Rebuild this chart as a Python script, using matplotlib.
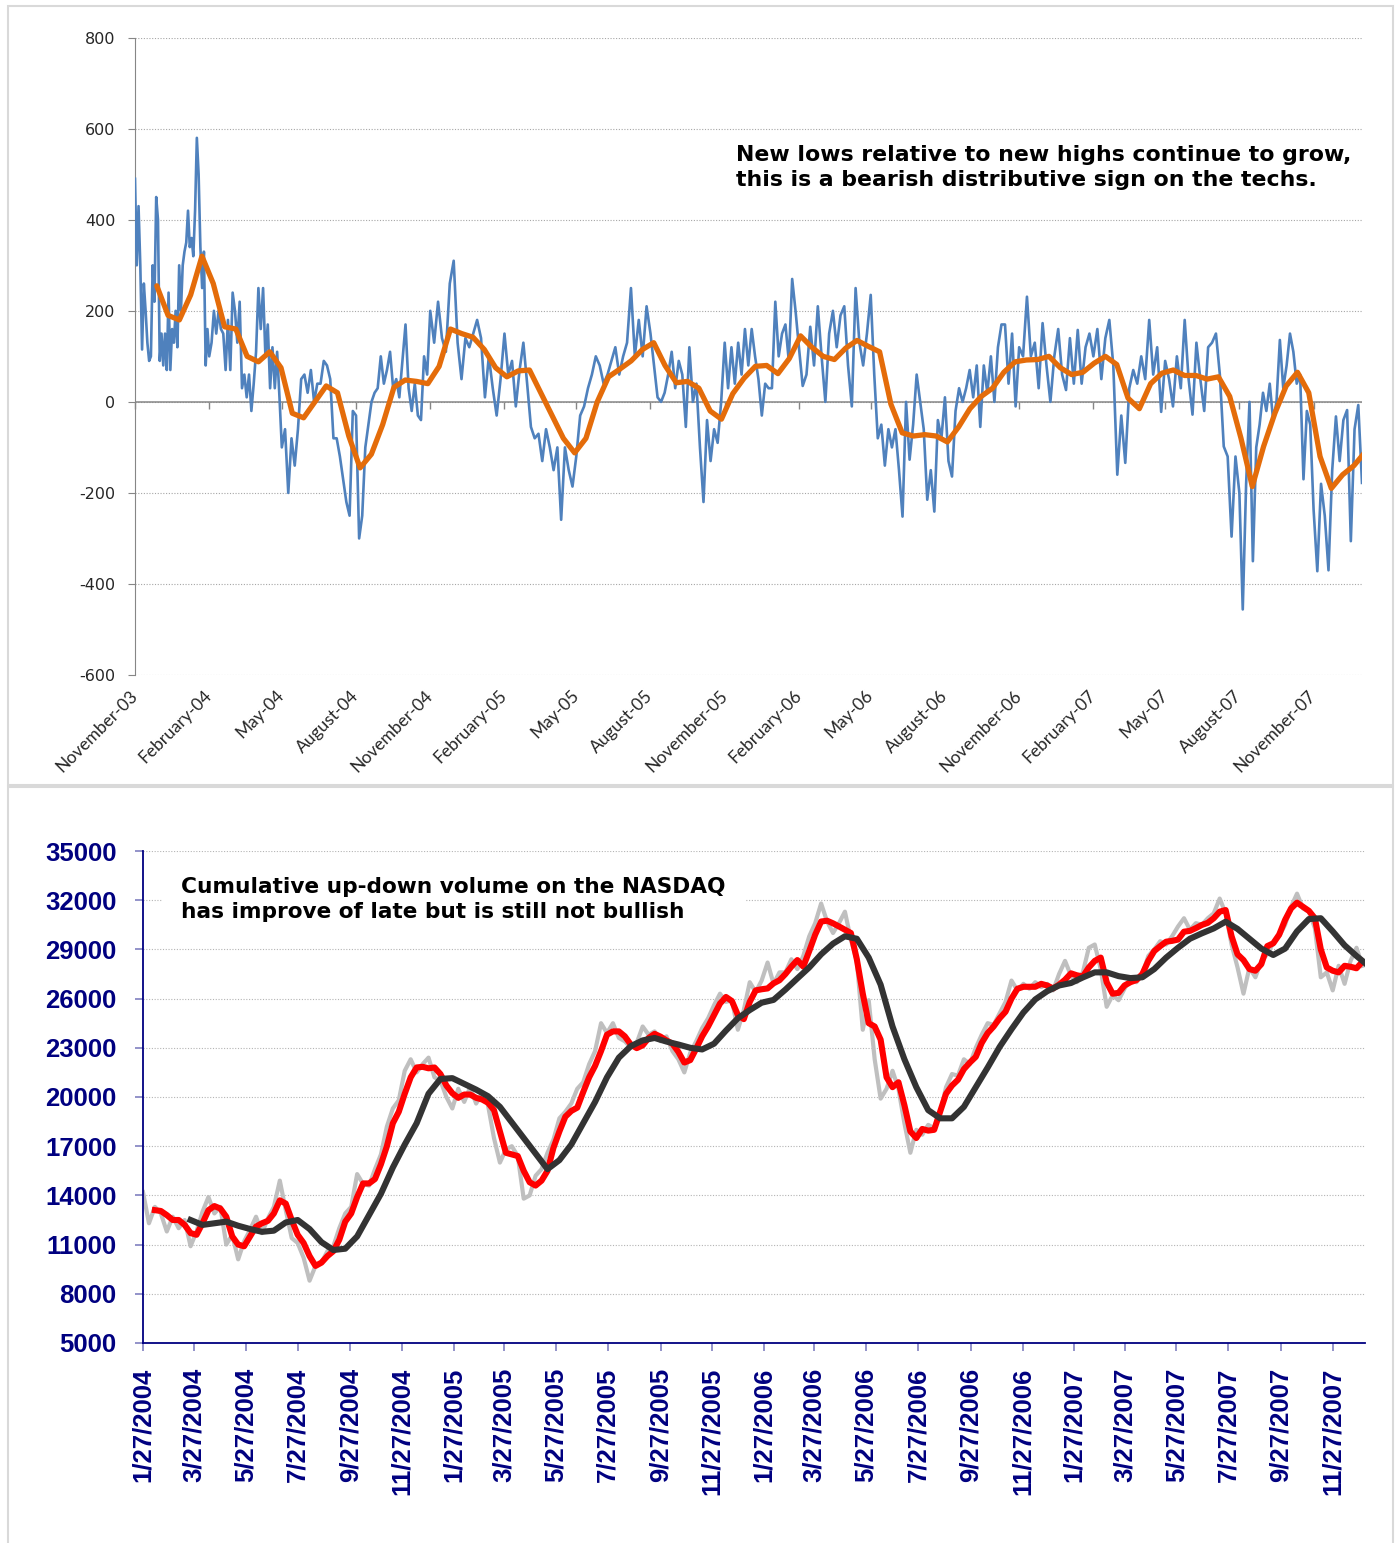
import numpy as np
import pandas as pd
import matplotlib
matplotlib.use("Agg")
import matplotlib.pyplot as plt
import matplotlib.dates as mdates
from matplotlib.patches import Rectangle

plt.rcParams["axes.unicode_minus"] = False

W, H = 1397, 1543

# top chart: NASDAQ new highs minus new lows, read quarter by quarter (Nov-03 .. Dec-07)
blue_quarters = [
    [490, 300, 430, 300, 115, 260, 200, 130, 90, 100, 300, 220, 450, 400, 90, 150, 80, 150, 70, 240, 70,
     160, 130, 200, 120, 300, 200, 300, 330, 350, 420, 340, 360, 320, 420, 580, 500, 340, 250, 330, 80, 160],
    [100, 130, 200, 150, 200, 160, 150, 70, 180, 70, 240, 200, 130, 220, 30, 60, 10, 60, -20, 40, 110, 250,
     160, 250, 100, 170, 30, 120, 30, 110, 10],
    [-100, -60, -200, -80, -140, -60, 50, 60, 20, 70, 0, 40, 40, 90, 80, 50, -80, -80, -120, -170, -220, -250, -20],
    [-30, -300, -250, -100, -50, 0, 20, 30, 100, 40, 70, 110, 30, 50, 10, 90, 170, 30, -20, 40, -30, -40, 100, 60],
    [200, 130, 220, 140, 110, 260, 310, 130, 50, 140, 120, 150, 180, 140, 10, 100, 30, -30, 50],
    [150, 60, 90, -10, 70, 130, 40, -55, -80, -70, -130, -60, -100, -150, -100, -259, -100, -150, -186],
    [-120, -30, -10, 30, 60, 100, 80, 40, 60, 90, 120, 60, 100, 130, 250, 100, 180, 100, 210],
    [150, 80, 10, 0, 20, 60, 110, 30, 90, 60, -55, 120, 0, 40, -100, -220, -40, -130, -60, -90, 0],
    [130, 30, 120, 40, 130, 60, 160, 80, 160, 100, 50, -30, 40, 30, 30, 220, 100, 150, 170, 90, 270, 200],
    [120, 35, 60, 165, 80, 210, 100, 0, 150, 200, 120, 190, 210, 80, -10, 250, 130, 80, 150],
    [235, 60, -80, -50, -140, -60, -100, -60, -150, -252, 0, -127, -50, 60, 0, -60, -215, -150, -241, -40, -80],
    [10, -130, -164, -20, 30, 0, 30, 70, 10, 80, -55, 80, 20, 100, 0, 120, 170, 170, 40, 150, -10],
    [120, 100, 231, 100, 130, 30, 173, 80, 0, 100, 160, 60, 26, 140, 40, 158, 40, 120, 150],
    [100, 160, 50, 140, 180, 80, -160, -30, -134, 30, 70, 40, 100, 50, 180, 60, 120, -22],
    [90, 50, -10, 100, 30, 180, 50, -28, 130, 50, -20, 120, 130, 150, 60, -98, -120, -296, -120],
    [-200, -456, -180, 0, -350, -100, -50, 20, -20, 40, -40, 0, 136, 30, 80, 150, 110, 40, 60, -170, -20, -50],
    [-237, -372, -180, -250, -370, -150, -32, -130, -40, -18, -306, -60, -7, -178],
]

# orange moving average, every two weeks from 28 Nov 2003
orange_ma = [
    255, 190, 180, 235, 320, 260, 165, 160, 100, 88,
    110, 75, -25, -35, 0, 35, 20, -75, -145, -115,
    -50, 32, 48, 45, 40, 78, 160, 150, 142, 115,
    75, 55, 68, 70, 20, -30, -80, -112, -80, 0,
    55, 72, 90, 115, 130, 80, 42, 45, 30, -20,
    -38, 18, 52, 78, 80, 62, 95, 145, 120, 100,
    93, 118, 135, 122, 110, -5, -68, -75, -72, -75,
    -88, -55, -15, 12, 30, 65, 88, 92, 93, 100,
    75, 60, 65, 85, 100, 82, 8, -15, 40, 63,
    70, 58, 58, 50, 55, 12, -80, -186, -98, -25,
    35, 65, 20, -120, -190, -160, -140, -110,
]

# bottom chart: cumulative up-down volume, weekly from 27 Jan 2004
gray_raw = [
    14200, 12300, 13300, 12900, 11800, 12700, 12000, 12500, 10900, 11800,
    13000, 13900, 12900, 13300, 11000, 11600, 10100, 11200, 11900, 12700,
    11700, 12600, 13300, 14900, 13100, 11400, 11100, 10200, 8800, 9700,
    9900, 10600, 10900, 12000, 12900, 13300, 15300, 14700, 14600, 15600,
    16500, 18200, 19300, 19800, 21600, 22300, 21500, 22000, 22400, 21200,
    21000, 20000, 19300, 20500, 19700, 20600, 19600, 20200, 19500, 17500,
    16000, 16800, 17000, 16400, 13800, 14000, 15200, 15600, 16600, 17400,
    18700, 19100, 19600, 20500, 20900, 22000, 22800, 24500, 23900, 24500,
    23600, 23400, 23000, 23300, 24300, 23800, 24000, 23400, 23700, 22800,
    22300, 21500, 22700, 23400, 24200, 24800, 25600, 26300, 25800, 25900,
    24100, 25300, 27000, 26400, 27100, 28200, 26900, 27600, 27600, 28400,
    27800, 28600, 29800, 30600, 31800, 30700, 30000, 30600, 31300, 29600,
    28300, 24100, 25900, 22300, 19900, 20500, 21600, 20500, 18400, 16600,
    18000, 17700, 18300, 18100, 19000, 20600, 21400, 21300, 22300, 22000,
    23000, 23800, 24500, 24400, 25100, 25800, 27100, 26500, 26900, 26600,
    27000, 26700, 26900, 26500, 27500, 28300, 27400, 27000, 27600, 29100,
    29300, 27800, 25500, 26200, 25900, 26600, 27200, 27000, 27500, 28600,
    29000, 29500, 29300, 29800, 30400, 30900, 30200, 30600, 30500, 30900,
    31200, 32100, 31200, 29300, 27900, 26300, 27900, 27300, 28300, 28700,
    29400, 29800, 30500, 31600, 32400, 31500, 31300, 30300, 27300, 27600,
    26500, 28000, 26900, 28300, 29100, 28000,
]

red_ma = [
    np.nan, np.nan, 13100, 13050, 12800, 12500, 12500, 12200, 11700, 11600,
    12300, 13100, 13350, 13200, 12700, 11500, 11000, 10900, 11500, 12100,
    12300, 12450, 12900, 13700, 13500, 12500, 11600, 11100, 10300, 9700,
    9900, 10300, 10600, 11300, 12400, 12900, 13900, 14730, 14730, 15000,
    15900, 17000, 18400, 19100, 20200, 21200, 21800, 21840, 21750, 21800,
    21400, 20700, 20230, 19950, 20150, 20150, 19950, 19850, 19650, 19200,
    17900, 16600, 16500, 16400, 15500, 14800, 14600, 14900, 15500, 16900,
    17900, 18800, 19150, 19350, 20300, 21200, 21900, 22800, 23800, 24000,
    24000, 23700, 23200, 22980, 23150, 23600, 23850, 23680, 23450, 23250,
    22750, 22100, 22250, 22950, 23700, 24300, 25000, 25700, 26100, 25850,
    25000, 24750, 25800, 26500, 26570, 26620, 26930, 27120, 27500, 27950,
    28350, 27950, 28900, 29900, 30700, 30750, 30590, 30400, 30200, 30000,
    28400, 26300, 24500, 24300, 23500, 21200, 20600, 20900, 19500, 17900,
    17500, 18050, 17950, 18000, 19100, 20200, 20700, 21050, 21700, 22100,
    22450, 23300, 23900, 24300, 24800, 25200, 26000, 26600, 26720, 26720,
    26720, 26900, 26800, 26620, 26850, 27150, 27540, 27420, 27350, 27900,
    28300, 28500, 27000, 26300, 26350, 26800, 27000, 27130, 27500, 28300,
    28900, 29200, 29470, 29520, 29600, 30080, 30130, 30300, 30490, 30620,
    30900, 31300, 31400, 29800, 28700, 28350, 27800, 27700, 28100, 29200,
    29370, 29900, 30800, 31500, 31850, 31600, 31350, 30900, 29000, 27900,
    27700, 27600, 28000, 27940, 27850, 28250,
]

# black long moving average, every two weeks from 23 Mar 2004
black_ma = [
    12500, 12200, 12300, 12400, 12150, 11950, 11780, 11850, 12350, 12500,
    11950, 11150, 10670, 10750, 11500, 12800, 14100, 15700, 17100, 18400,
    20200, 21100, 21150, 20800, 20450, 20050, 19400, 18450, 17500, 16550,
    15600, 16150, 17100, 18400, 19700, 21200, 22400, 23100, 23450, 23600,
    23380, 23200, 23000, 22900, 23250, 24050, 24800, 25300, 25750, 25920,
    26550, 27230, 27900, 28700, 29350, 29800, 29650, 28500, 26850, 24300,
    22300, 20600, 19200, 18700, 18700, 19400, 20600, 21800, 23050, 24130,
    25150, 25950, 26450, 26800, 26950, 27290, 27600, 27600, 27370, 27250,
    27300, 27800, 28500, 29100, 29650, 29980, 30280, 30690, 30250, 29650,
    29050, 28660, 29050, 30100, 30850, 30900, 30100, 29250, 28600, 28000,
]


def fig_box(left, top, right, bottom):
    # pixel box of the reference -> figure fraction
    return [left / W, 1 - bottom / H, (right - left) / W, (bottom - top) / H]


fig = plt.figure(figsize=(W / 100, H / 100), dpi=100)

for l, t, r, b in [(8, 6, 1393, 785), (8, 787, 1393, 1570)]:
    fig.patches.append(Rectangle((l / W, 1 - b / H), (r - l) / W, (b - t) / H,
                                 transform=fig.transFigure, fill=False,
                                 edgecolor="#d9d9d9", linewidth=1.5))

# ---------------- top chart ----------------
ax1 = fig.add_axes(fig_box(135, 37.7, 1362, 675))

q_starts = list(pd.date_range("2003-11-01", "2007-11-01", freq="3MS")) + [pd.Timestamp("2007-12-31")]
blue_x, blue_y = [], []
for i, seg in enumerate(blue_quarters):
    a = mdates.date2num(q_starts[i])
    b = mdates.date2num(q_starts[i + 1])
    blue_x.extend(np.linspace(a, b, len(seg), endpoint=(i == len(blue_quarters) - 1)))
    blue_y.extend(seg)
orange_x = mdates.date2num(pd.date_range("2003-11-28", periods=len(orange_ma), freq="14D"))

ax1.plot(blue_x, blue_y, color="#4f81bd", lw=1.9, zorder=3)
ax1.plot(orange_x, orange_ma, color="#e46c0a", lw=3.8, zorder=4, solid_capstyle="round")

ax1.set_xlim(mdates.date2num(q_starts[0]), mdates.date2num(q_starts[-1]))
ax1.set_ylim(-600, 800)
ax1.set_yticks(range(-600, 801, 200))
ax1.grid(axis="y", color="#a6a6a6", linestyle=(0, (1, 1.5)), linewidth=0.8, zorder=0)
for s in ["top", "right", "bottom"]:
    ax1.spines[s].set_visible(False)
ax1.spines["left"].set_color("#868686")

# horizontal axis crosses at zero, with its ticks
q_nums = mdates.date2num(q_starts[:-1])
ax1.axhline(0, color="#868686", lw=1.1, zorder=2)
ax1.plot(q_nums, np.zeros(len(q_nums)), linestyle="none", marker=3, markersize=5,
         color="#868686", markeredgewidth=1, zorder=2, clip_on=False)

ax1.tick_params(axis="y", length=5, color="#868686", labelsize=11.5, labelcolor="#262626", pad=9)
ax1.set_xticks(q_nums, [d.strftime("%B-%y") for d in q_starts[:-1]], rotation=45,
               ha="right", va="center", rotation_mode="anchor", fontsize=12.5,
               fontfamily="Lato", color="#262626")
ax1.tick_params(axis="x", length=0, pad=13)

fig.text(736 / W, 1 - 145 / H,
         "New lows relative to new highs continue to grow,\nthis is a bearish distributive sign on the techs.",
         ha="left", va="top", fontsize=15.8, fontweight="bold", linespacing=1.3)

# ---------------- bottom chart ----------------
ax2 = fig.add_axes(fig_box(143, 851, 1365, 1343))

week_x = mdates.date2num(pd.date_range("2004-01-27", periods=len(gray_raw), freq="7D"))
black_x = mdates.date2num(pd.date_range("2004-03-23", periods=len(black_ma), freq="14D"))

ax2.plot(week_x, gray_raw, color="#bfbfbf", lw=3.0, zorder=2)
ax2.plot(week_x, red_ma, color="#ff0000", lw=4.4, zorder=3)
ax2.plot(black_x, black_ma, color="#333333", lw=4.4, zorder=4)

ax2.set_xlim(mdates.date2num(pd.Timestamp("2004-01-27")), mdates.date2num(pd.Timestamp("2008-01-04")))
ax2.set_ylim(5000, 35000)
ax2.grid(axis="y", color="#b4b4b4", linestyle=(0, (1, 1.5)), linewidth=0.8, zorder=0)
for s in ["top", "right"]:
    ax2.spines[s].set_visible(False)
for s in ["left", "bottom"]:
    ax2.spines[s].set_color("#000080")
    ax2.spines[s].set_linewidth(1.3)

bold_kw = dict(fontfamily="Liberation Sans", fontweight="bold", fontsize=18.5, color="#000080")
y_ticks = list(range(5000, 35001, 3000))
ax2.set_yticks(y_ticks, [str(v) for v in y_ticks], **bold_kw)
x_dates = pd.date_range("2004-01-01", "2007-11-01", freq="2MS") + pd.Timedelta(days=26)
ax2.set_xticks(mdates.date2num(x_dates), [f"{d.month}/{d.day}/{d.year}" for d in x_dates],
               rotation=90, **bold_kw)
ax2.tick_params(axis="y", length=6, width=1.2, color="#8080c0", pad=13)
ax2.tick_params(axis="x", length=6, width=1.2, color="#8080c0", pad=12)

fig.text(181 / W, 1 - 877 / H,
         "Cumulative up-down volume on the NASDAQ\nhas improve of late but is still not bullish",
         ha="left", va="top", fontsize=15.6, fontweight="bold", linespacing=1.32,
         bbox=dict(facecolor="white", edgecolor="none", boxstyle="square,pad=0.9"), zorder=5)

fig.savefig("out.png", dpi=100)
